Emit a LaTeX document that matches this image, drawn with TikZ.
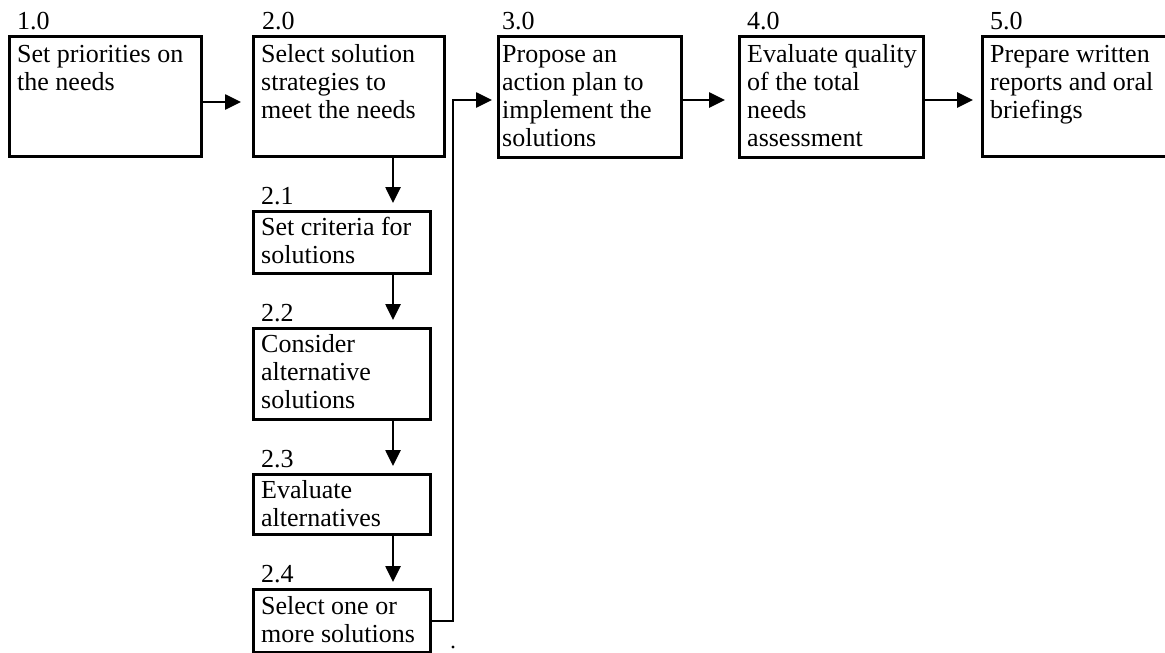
\documentclass[tikz,border=0pt]{standalone}
\usepackage{fontspec}
\setmainfont{Liberation Serif}
\usetikzlibrary{arrows.meta}
\begin{document}
\begin{tikzpicture}[x=1pt,y=-1pt,
  bx/.style={draw, line width=2.6pt, inner sep=0pt, anchor=north west},
  num/.style={anchor=base west, inner sep=0pt, font=\fontsize{26}{28}\selectfont},
  txt/.style={anchor=north west, inner sep=0pt, align=left, font=\fontsize{26}{28}\selectfont},
  arr/.style={line width=2.6pt, -{Triangle[length=16pt,width=15pt]}}]
\path[use as bounding box, clip] (0,0) rectangle (1165,653);
\fill[white] (0,0) rectangle (1165,653);
% top row
\node[bx, minimum width=192pt, minimum height=120pt] (b1) at (8,35) {};
\node[bx, minimum width=191pt, minimum height=120pt] (b2) at (252,35) {};
\node[bx, minimum width=183pt, minimum height=121pt] (b3) at (497,35) {};
\node[bx, minimum width=184pt, minimum height=121pt] (b4) at (738,35) {};
\node[bx, minimum width=192pt, minimum height=120pt] (b5) at (981,35) {};
% column
\node[bx, minimum width=177pt, minimum height=62pt] (b21) at (252,210) {};
\node[bx, minimum width=177pt, minimum height=91pt] (b22) at (252,327) {};
\node[bx, minimum width=177pt, minimum height=60pt] (b23) at (252,473) {};
\node[bx, minimum width=177pt, minimum height=63pt] (b24) at (252,588) {};
% numbers
\node[num] (n1) at ([shift={(9,-6)}]b1.north west) {1.0};
\node[num] (n2) at ([shift={(10,-6)}]b2.north west) {2.0};
\node[num] (n3) at ([shift={(5,-6)}]b3.north west) {3.0};
\node[num] (n4) at ([shift={(9,-6)}]b4.north west) {4.0};
\node[num] (n5) at ([shift={(9,-6)}]b5.north west) {5.0};
\node[num] (n21) at ([shift={(9,-6)}]b21.north west) {2.1};
\node[num] (n22) at ([shift={(9,-6)}]b22.north west) {2.2};
\node[num] (n23) at ([shift={(9,-6)}]b23.north west) {2.3};
\node[num] (n24) at ([shift={(9,-6)}]b24.north west) {2.4};
% texts
\node[txt] (t1) at ([shift={(9,8)}]b1.north west) {\strut Set priorities on\\the needs};
\node[txt] (t2) at ([shift={(9,8)}]b2.north west) {\strut Select solution\\strategies to\\meet the needs};
\node[txt] (t3) at ([shift={(5,8)}]b3.north west) {\strut Propose an\\action plan to\\implement the\\solutions};
\node[txt] (t4) at ([shift={(9,8)}]b4.north west) {\strut Evaluate quality\\of the total\\needs\\assessment};
\node[txt] (t5) at ([shift={(9,8)}]b5.north west) {\strut Prepare written\\reports and oral\\briefings};
\node[txt] (t21) at ([shift={(9,6)}]b21.north west) {\strut Set criteria for\\solutions};
\node[txt] (t22) at ([shift={(9,6)}]b22.north west) {\strut Consider\\alternative\\solutions};
\node[txt] (t23) at ([shift={(9,6)}]b23.north west) {\strut Evaluate\\alternatives};
\node[txt] (t24) at ([shift={(9,7)}]b24.north west) {\strut Select one or\\more solutions};
% helper coordinates
\coordinate (r1) at (0,102);
\coordinate (r2) at (0,100);
\coordinate (col) at (393,0);
\coordinate (j) at (453,100);
% connectors
\draw[arr, shorten >=11pt] (b1.east |- r1) -- (b2.west |- r1);
\draw[arr, shorten >=13pt] (b3.east |- r2) -- (b4.west |- r2);
\draw[arr, shorten >=8pt] (b4.east |- r2) -- (b5.west |- r2);
\draw[arr, shorten >=7pt] (b2.south -| col) -- (b21.north -| col);
\draw[arr, shorten >=7pt] (b21.south -| col) -- (b22.north -| col);
\draw[arr, shorten >=7pt] (b22.south -| col) -- (b23.north -| col);
\draw[arr, shorten >=6pt] (b23.south -| col) -- (b24.north -| col);
\draw[arr, shorten >=5pt] (b24.east) -| (j) -- (b3.west |- j);
\fill (453,647) circle (1.6);
\end{tikzpicture}
\end{document}
